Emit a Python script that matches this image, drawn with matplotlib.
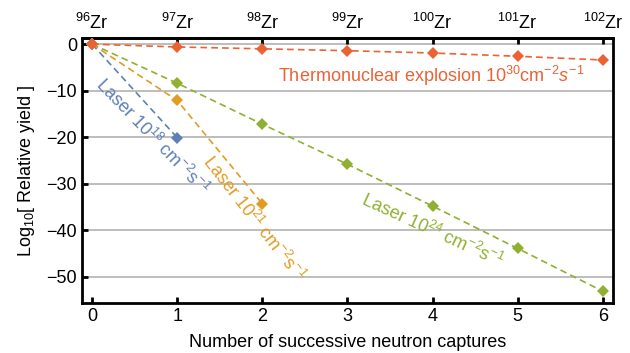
import matplotlib
matplotlib.use("Agg")
import matplotlib.pyplot as plt

plt.rcParams['font.family'] = ['Liberation Sans', 'DejaVu Sans']
plt.rcParams['mathtext.fontset'] = 'custom'
plt.rcParams['mathtext.rm'] = 'Liberation Sans'
plt.rcParams['mathtext.it'] = 'Liberation Sans:italic'
plt.rcParams['mathtext.default'] = 'regular'

# data
captures = [0, 1, 2, 3, 4, 5, 6]
isotopes = ["$^{96}$Zr", "$^{97}$Zr", "$^{98}$Zr", "$^{99}$Zr",
            "$^{100}$Zr", "$^{101}$Zr", "$^{102}$Zr"]

thermo_x = [0, 1, 2, 3, 4, 5, 6]
thermo_y = [0, -0.6, -1.0, -1.4, -1.9, -2.6, -3.4]

laser24_x = [0, 1, 2, 3, 4, 5, 6]
laser24_y = [0, -8.4, -17.2, -25.8, -34.8, -43.9, -53.1]

laser21_x = [0, 1, 2]
laser21_y = [0, -12.1, -34.3]

laser18_x = [0, 1]
laser18_y = [0, -20.1]

BLUE = "#5e81b5"
ORANGE = "#e19c24"
GREEN = "#8fb032"
RED = "#eb6235"
FS = 13

fig = plt.figure(figsize=(6.3, 3.53), dpi=100)
ax = fig.add_axes([0.130, 0.142, 0.843, 0.750])

ax.set_xlim(-0.12, 6.12)
ax.set_ylim(-55.6, 1.3)

for y in [0, -10, -20, -30, -40, -50]:
    ax.axhline(y, color="#b8b8b8", lw=1.3, zorder=0)

def series(xs, ys, col, z):
    ax.plot(xs, ys, ls=(0, (4, 2.5)), lw=1.2, color=col, marker="D",
            markersize=6, markeredgewidth=0, zorder=z)

series(laser18_x, laser18_y, BLUE, 3)
series(laser21_x, laser21_y, ORANGE, 4)
series(laser24_x, laser24_y, GREEN, 5)
series(thermo_x, thermo_y, RED, 6)

ax.text(0.70, -19.9, r"Laser 10$^{18}$ cm$^{-2}$s$^{-1}$", color=BLUE,
        fontsize=FS, rotation=-46, rotation_mode="anchor",
        ha="center", va="center")
ax.text(1.90, -37.5, r"Laser 10$^{21}$ cm$^{-2}$s$^{-1}$", color=ORANGE,
        fontsize=FS, rotation=-52, rotation_mode="anchor",
        ha="center", va="center")
ax.text(4.0, -40.1, r"Laser 10$^{24}$ cm$^{-2}$s$^{-1}$", color=GREEN,
        fontsize=FS, rotation=-24.5, rotation_mode="anchor",
        ha="center", va="center")
ax.text(3.99, -6.8, r"Thermonuclear explosion 10$^{30}$cm$^{-2}$$\mathit{s}^{-1}$",
        color=RED, fontsize=FS, ha="center", va="center")

ax.set_xticks(captures)
ax.set_yticks([0, -10, -20, -30, -40, -50])
ax.tick_params(axis="both", labelsize=FS, direction="in", width=2, length=4)
ax.set_xlabel("Number of successive neutron captures", fontsize=FS, labelpad=7)
ax.set_ylabel("Log$_{10}$[ Relative yield ]", fontsize=FS, labelpad=7)

top = ax.secondary_xaxis("top")
top.set_xticks(captures)
top.set_xticklabels(isotopes)
top.tick_params(labelsize=FS, direction="in", width=2, length=4)
top.spines["top"].set_linewidth(2)

for s in ax.spines.values():
    s.set_linewidth(2)

fig.savefig("out.png", dpi=100)
